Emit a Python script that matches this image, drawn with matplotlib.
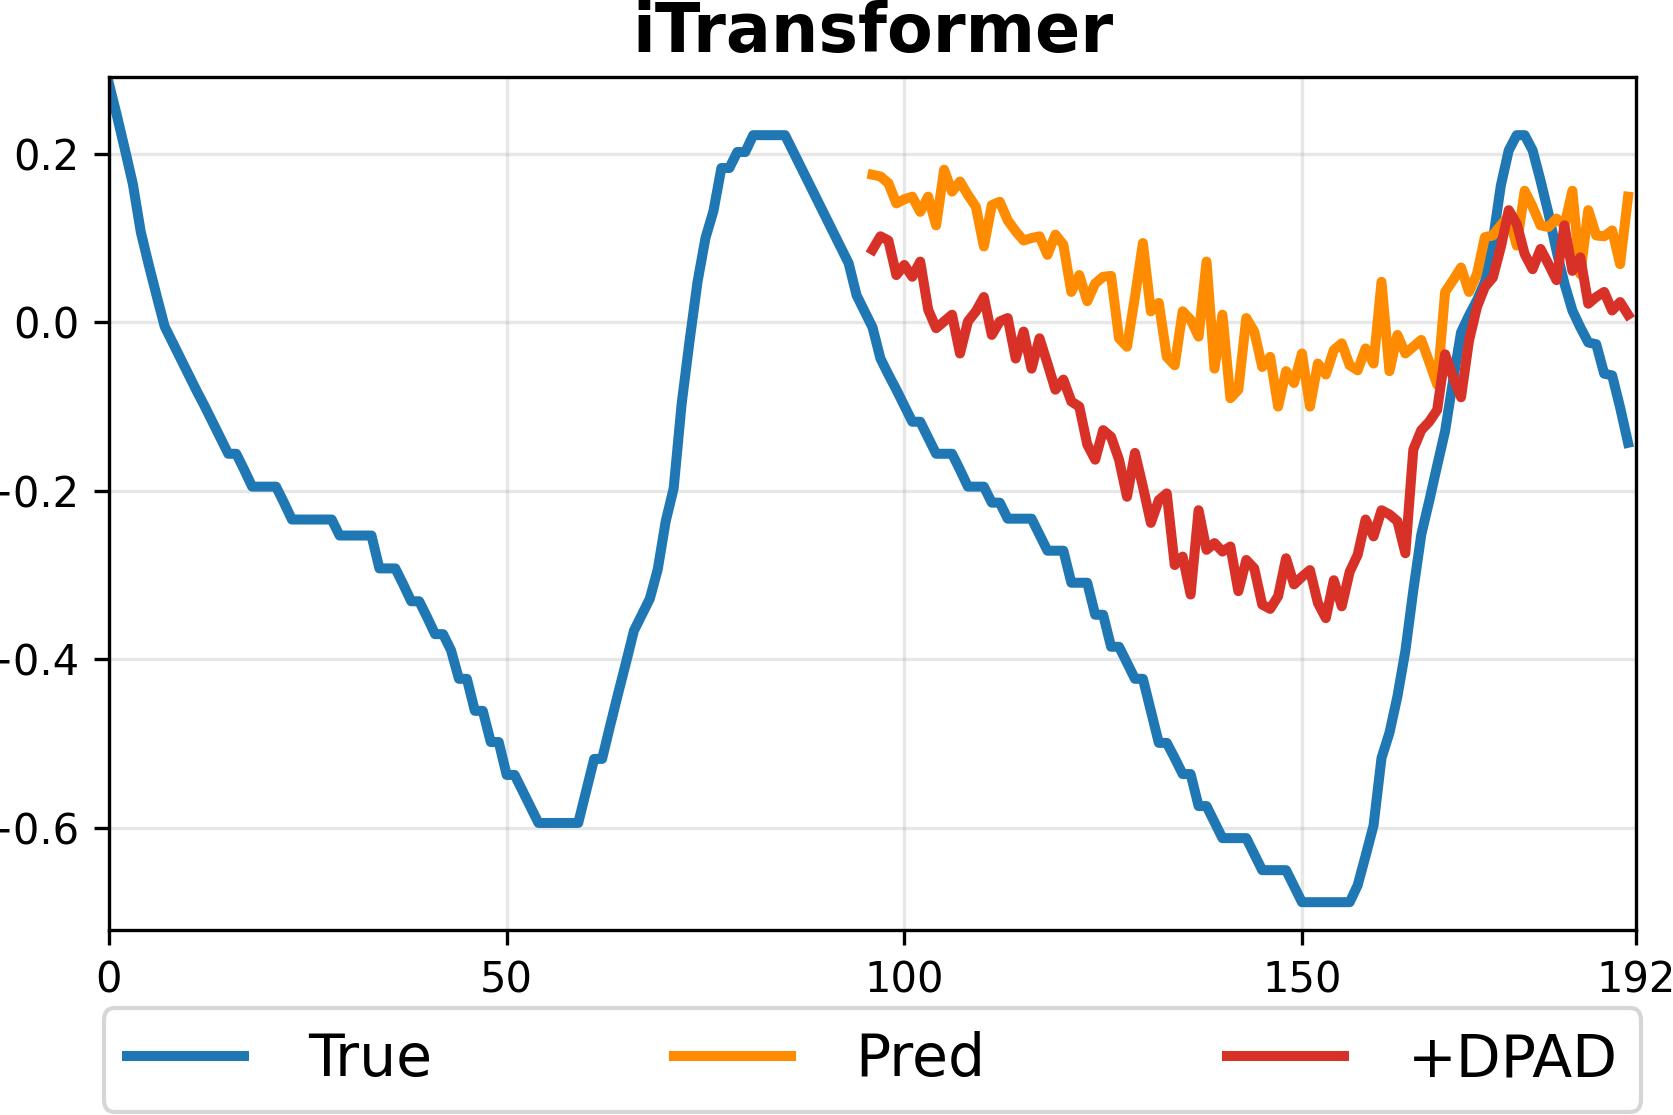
import matplotlib
matplotlib.use("Agg")
import matplotlib.pyplot as plt
import numpy as np

# ── Data ──────────────────────────────────────────────────────────────────────
true_vals = [
    0.283, 0.245, 0.205, 0.164, 0.107, 0.068, 0.031, -0.005, -0.024, -0.043,
    -0.062, -0.081, -0.099, -0.118, -0.137, -0.156, -0.156, -0.175, -0.195, -0.195,
    -0.195, -0.195, -0.214, -0.234, -0.234, -0.234, -0.234, -0.234, -0.234, -0.253,
    -0.253, -0.253, -0.253, -0.253, -0.292, -0.292, -0.292, -0.311, -0.331, -0.331,
    -0.350, -0.370, -0.370, -0.389, -0.423, -0.423, -0.461, -0.461, -0.498, -0.498,
    -0.537, -0.537, -0.556, -0.575, -0.594, -0.594, -0.594, -0.594, -0.594, -0.594,
    -0.556, -0.518, -0.518, -0.479, -0.441, -0.404, -0.366, -0.347, -0.328, -0.293,
    -0.236, -0.197, -0.097, -0.022, 0.048, 0.100, 0.132, 0.183, 0.183, 0.202,
    0.202, 0.222, 0.222, 0.222, 0.222, 0.222, 0.203, 0.184, 0.165, 0.146,
    0.127, 0.108, 0.089, 0.070, 0.032, 0.013, -0.006, -0.043, -0.062, -0.080,
    -0.099, -0.118, -0.118, -0.137, -0.156, -0.156, -0.156, -0.175, -0.195, -0.195,
    -0.195, -0.214, -0.214, -0.233, -0.233, -0.233, -0.233, -0.252, -0.271, -0.271,
    -0.271, -0.309, -0.309, -0.309, -0.347, -0.347, -0.385, -0.385, -0.404, -0.423,
    -0.423, -0.461, -0.499, -0.499, -0.517, -0.536, -0.536, -0.574, -0.574, -0.593,
    -0.612, -0.612, -0.612, -0.612, -0.631, -0.650, -0.650, -0.650, -0.650, -0.669,
    -0.688, -0.688, -0.688, -0.688, -0.688, -0.688, -0.688, -0.668, -0.633, -0.597,
    -0.517, -0.487, -0.444, -0.390, -0.318, -0.252, -0.212, -0.170, -0.129, -0.069,
    -0.012, 0.008, 0.026, 0.048, 0.097, 0.162, 0.204, 0.222, 0.222, 0.204,
    0.168, 0.129, 0.085, 0.046, 0.014, -0.006, -0.024, -0.026, -0.061, -0.063,
    -0.101, -0.143,
]

pred_vals = [
    0.175, 0.173, 0.165, 0.141, 0.146, 0.149, 0.131, 0.149, 0.115, 0.181,
    0.155, 0.167, 0.151, 0.137, 0.090, 0.139, 0.143, 0.121, 0.108, 0.097,
    0.100, 0.102, 0.080, 0.104, 0.092, 0.036, 0.056, 0.025, 0.046, 0.054,
    0.055, -0.019, -0.029, 0.030, 0.094, 0.013, 0.023, -0.041, -0.051, 0.013,
    0.003, -0.017, 0.072, -0.055, 0.009, -0.090, -0.080, 0.005, -0.011, -0.053,
    -0.041, -0.100, -0.058, -0.072, -0.037, -0.100, -0.049, -0.062, -0.033, -0.025,
    -0.051, -0.057, -0.031, -0.049, 0.048, -0.058, -0.015, -0.037, -0.029, -0.021,
    -0.047, -0.074, 0.036, 0.050, 0.065, 0.036, 0.057, 0.101, 0.103, 0.115,
    0.126, 0.091, 0.156, 0.137, 0.115, 0.113, 0.123, 0.115, 0.156, 0.057,
    0.133, 0.103, 0.102, 0.109, 0.069, 0.149,
]

dpad_vals = [
    0.086, 0.102, 0.097, 0.056, 0.068, 0.054, 0.072, 0.015, -0.007, 0.001,
    0.009, -0.037, 0.001, 0.013, 0.030, -0.015, 0.001, 0.005, -0.043, -0.011,
    -0.055, -0.019, -0.049, -0.080, -0.068, -0.094, -0.100, -0.145, -0.163, -0.128,
    -0.136, -0.163, -0.207, -0.155, -0.195, -0.238, -0.211, -0.203, -0.288, -0.278,
    -0.323, -0.223, -0.270, -0.262, -0.272, -0.266, -0.319, -0.282, -0.292, -0.335,
    -0.340, -0.325, -0.280, -0.311, -0.302, -0.294, -0.333, -0.351, -0.306, -0.337,
    -0.296, -0.276, -0.234, -0.254, -0.223, -0.228, -0.236, -0.274, -0.151, -0.128,
    -0.118, -0.104, -0.038, -0.065, -0.089, -0.022, 0.018, 0.042, 0.053, 0.089,
    0.133, 0.117, 0.081, 0.063, 0.087, 0.069, 0.050, 0.115, 0.061, 0.077,
    0.022, 0.030, 0.036, 0.014, 0.024, 0.009,
]

x_true = np.arange(len(true_vals))
x_pred = np.arange(96, 96 + len(pred_vals))
xtick_vals = [0, 50, 100, 150, 192]

# ── Figure ────────────────────────────────────────────────────────────────────
fig = plt.figure(figsize=(1673 / 300, 1115 / 300), dpi=300)
ax = fig.add_axes([109 / 1673, 1 - 930 / 1115, 1527 / 1673, 853 / 1115])

ax.plot(x_true, true_vals, color="#1f77b4", lw=2.4, label="True")
ax.plot(x_pred, pred_vals, color="#ff8c00", lw=2.4, label="Pred")
ax.plot(x_pred, dpad_vals, color="#d83228", lw=2.4, label="+DPAD")

ax.set_xlim(0, 192)
ax.set_ylim(-0.721, 0.291)
ax.set_xticks(xtick_vals)
ax.set_yticks([-0.6, -0.4, -0.2, 0.0, 0.2])
ax.tick_params(labelsize=10)
ax.grid(alpha=0.3)
ax.set_title("iTransformer", fontsize=16, fontweight="bold")

# legend below the axes, stretched to the axes width (slightly wider frame)
ax.legend(loc="upper left", bbox_to_anchor=(-0.0035, -0.0914, 1.007, 0),
          mode="expand", ncol=3, borderaxespad=0, fontsize=14,
          handletextpad=1.1)

fig.savefig("out.png", dpi=300)
